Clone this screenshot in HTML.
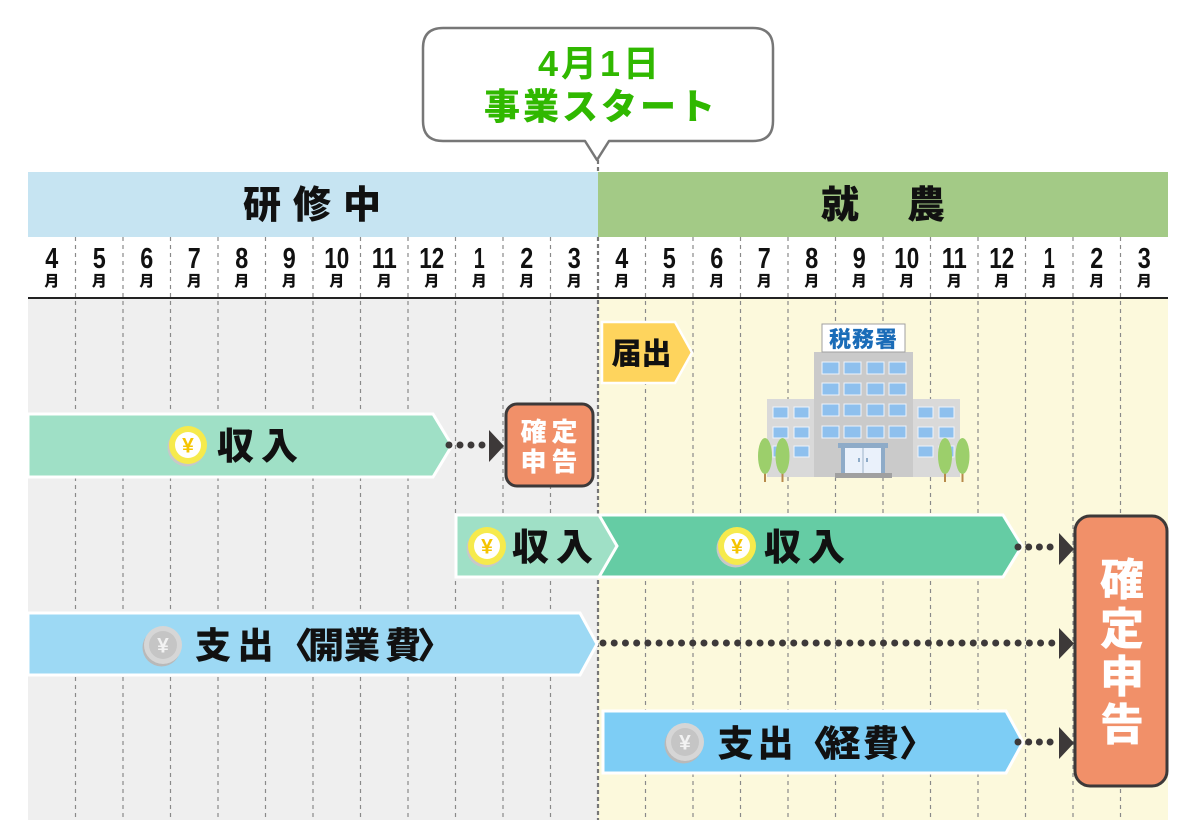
<!DOCTYPE html>
<html lang="ja">
<head>
<meta charset="utf-8">
<style>
html,body{margin:0;padding:0;background:#fff;}
body{width:1200px;height:840px;overflow:hidden;}
svg{display:block;}
text{font-family:"Liberation Sans","Noto Sans CJK JP",sans-serif;font-weight:bold;}
.cjk{font-family:"Noto Sans CJK JP","Liberation Sans",sans-serif;font-weight:900;}
</style>
</head>
<body>
<svg width="1200" height="840" viewBox="0 0 1200 840" xmlns="http://www.w3.org/2000/svg">
  <!-- body backgrounds -->
  <rect x="28" y="298" width="570" height="522" fill="#efefef"/>
  <rect x="598" y="298" width="570" height="522" fill="#fcf9dc"/>

  <!-- dashed grid -->
  <g stroke="#8a8a8a" stroke-width="1.2" stroke-dasharray="4 4">
    <line x1="75.5" y1="237" x2="75.5" y2="820"/>
    <line x1="123" y1="237" x2="123" y2="820"/>
    <line x1="170.5" y1="237" x2="170.5" y2="820"/>
    <line x1="218" y1="237" x2="218" y2="820"/>
    <line x1="265.5" y1="237" x2="265.5" y2="820"/>
    <line x1="313" y1="237" x2="313" y2="820"/>
    <line x1="360.5" y1="237" x2="360.5" y2="820"/>
    <line x1="408" y1="237" x2="408" y2="820"/>
    <line x1="455.5" y1="237" x2="455.5" y2="820"/>
    <line x1="503" y1="237" x2="503" y2="820"/>
    <line x1="550.5" y1="237" x2="550.5" y2="820"/>
    <line x1="645.5" y1="237" x2="645.5" y2="820"/>
    <line x1="693" y1="237" x2="693" y2="820"/>
    <line x1="740.5" y1="237" x2="740.5" y2="820"/>
    <line x1="788" y1="237" x2="788" y2="820"/>
    <line x1="835.5" y1="237" x2="835.5" y2="820"/>
    <line x1="883" y1="237" x2="883" y2="820"/>
    <line x1="930.5" y1="237" x2="930.5" y2="820"/>
    <line x1="978" y1="237" x2="978" y2="820"/>
    <line x1="1025.5" y1="237" x2="1025.5" y2="820"/>
    <line x1="1073" y1="237" x2="1073" y2="820"/>
    <line x1="1120.5" y1="237" x2="1120.5" y2="820"/>
  </g>
  <line x1="598" y1="160" x2="598" y2="820" stroke="#777" stroke-width="2.2" stroke-dasharray="4 3"/>

  <!-- header bands -->
  <rect x="28" y="172" width="570" height="65" fill="#c6e4f2"/>
  <rect x="598" y="172" width="570" height="65" fill="#a3ca86"/>
  <g class="cjk" font-size="38" fill="#111" text-anchor="middle">
    <text class="cjk" x="262" y="218">研</text>
    <text class="cjk" x="312" y="218">修</text>
    <text class="cjk" x="362" y="218">中</text>
    <text class="cjk" x="840" y="218">就</text>
    <text class="cjk" x="926" y="218">農</text>
  </g>

  <!-- month row -->
  <line x1="28" y1="298" x2="1168" y2="298" stroke="#222" stroke-width="2"/>
  <g font-size="29" fill="#111" text-anchor="middle">
    <text x="51.75" y="268" textLength="13" lengthAdjust="spacingAndGlyphs">4</text>
    <text x="99.25" y="268" textLength="13" lengthAdjust="spacingAndGlyphs">5</text>
    <text x="146.75" y="268" textLength="13" lengthAdjust="spacingAndGlyphs">6</text>
    <text x="194.25" y="268" textLength="13" lengthAdjust="spacingAndGlyphs">7</text>
    <text x="241.75" y="268" textLength="13" lengthAdjust="spacingAndGlyphs">8</text>
    <text x="289.25" y="268" textLength="13" lengthAdjust="spacingAndGlyphs">9</text>
    <text x="336.75" y="268" textLength="25" lengthAdjust="spacingAndGlyphs">10</text>
    <text x="384.25" y="268" textLength="25" lengthAdjust="spacingAndGlyphs">11</text>
    <text x="431.75" y="268" textLength="25" lengthAdjust="spacingAndGlyphs">12</text>
    <text x="479.25" y="268" textLength="11" lengthAdjust="spacingAndGlyphs">1</text>
    <text x="526.75" y="268" textLength="13" lengthAdjust="spacingAndGlyphs">2</text>
    <text x="574.25" y="268" textLength="13" lengthAdjust="spacingAndGlyphs">3</text>
    <text x="621.75" y="268" textLength="13" lengthAdjust="spacingAndGlyphs">4</text>
    <text x="669.25" y="268" textLength="13" lengthAdjust="spacingAndGlyphs">5</text>
    <text x="716.75" y="268" textLength="13" lengthAdjust="spacingAndGlyphs">6</text>
    <text x="764.25" y="268" textLength="13" lengthAdjust="spacingAndGlyphs">7</text>
    <text x="811.75" y="268" textLength="13" lengthAdjust="spacingAndGlyphs">8</text>
    <text x="859.25" y="268" textLength="13" lengthAdjust="spacingAndGlyphs">9</text>
    <text x="906.75" y="268" textLength="25" lengthAdjust="spacingAndGlyphs">10</text>
    <text x="954.25" y="268" textLength="25" lengthAdjust="spacingAndGlyphs">11</text>
    <text x="1001.75" y="268" textLength="25" lengthAdjust="spacingAndGlyphs">12</text>
    <text x="1049.25" y="268" textLength="11" lengthAdjust="spacingAndGlyphs">1</text>
    <text x="1096.75" y="268" textLength="13" lengthAdjust="spacingAndGlyphs">2</text>
    <text x="1144.25" y="268" textLength="13" lengthAdjust="spacingAndGlyphs">3</text>
  </g>
  <g font-size="15" fill="#111" text-anchor="middle">
    <text class="cjk" x="51.75" y="286">月</text>
    <text class="cjk" x="99.25" y="286">月</text>
    <text class="cjk" x="146.75" y="286">月</text>
    <text class="cjk" x="194.25" y="286">月</text>
    <text class="cjk" x="241.75" y="286">月</text>
    <text class="cjk" x="289.25" y="286">月</text>
    <text class="cjk" x="336.75" y="286">月</text>
    <text class="cjk" x="384.25" y="286">月</text>
    <text class="cjk" x="431.75" y="286">月</text>
    <text class="cjk" x="479.25" y="286">月</text>
    <text class="cjk" x="526.75" y="286">月</text>
    <text class="cjk" x="574.25" y="286">月</text>
    <text class="cjk" x="621.75" y="286">月</text>
    <text class="cjk" x="669.25" y="286">月</text>
    <text class="cjk" x="716.75" y="286">月</text>
    <text class="cjk" x="764.25" y="286">月</text>
    <text class="cjk" x="811.75" y="286">月</text>
    <text class="cjk" x="859.25" y="286">月</text>
    <text class="cjk" x="906.75" y="286">月</text>
    <text class="cjk" x="954.25" y="286">月</text>
    <text class="cjk" x="1001.75" y="286">月</text>
    <text class="cjk" x="1049.25" y="286">月</text>
    <text class="cjk" x="1096.75" y="286">月</text>
    <text class="cjk" x="1144.25" y="286">月</text>
  </g>

  <!-- speech bubble -->
  <path d="M443,28 H753 Q773,28 773,48 V121 Q773,141 753,141 H609 L597,160 L585,141 H443 Q423,141 423,121 V48 Q423,28 443,28 Z" fill="#fff" stroke="#777" stroke-width="2.5" stroke-linejoin="round"/>
  <text x="600" y="76" font-size="36" fill="#30b800" text-anchor="middle" letter-spacing="3">4月1日</text>
  <text class="cjk" x="601" y="119" font-size="36" fill="#30b800" text-anchor="middle" letter-spacing="3">事業スタート</text>

  <!-- 届出 -->
  <path d="M602,322 H675 L692,352.5 L675,383 H602 Z" fill="#fed45d" stroke="#fff" stroke-width="2.5"/>
  <text class="cjk" x="641.5" y="364" font-size="30" fill="#111" text-anchor="middle">届出</text>

  <!-- building -->
  <g>
    <rect x="767" y="399" width="47" height="78" fill="#d9d9d9"/>
    <rect x="913" y="399" width="47" height="78" fill="#d9d9d9"/>
    <rect x="814" y="352" width="99" height="125" fill="#cacaca"/>
    <g fill="#8ec0ee" stroke="#eef3fa" stroke-width="1">
      <rect x="822" y="362" width="17" height="12"/><rect x="844" y="362" width="17" height="12"/><rect x="867" y="362" width="17" height="12"/><rect x="889" y="362" width="17" height="12"/>
      <rect x="822" y="383" width="17" height="12"/><rect x="844" y="383" width="17" height="12"/><rect x="867" y="383" width="17" height="12"/><rect x="889" y="383" width="17" height="12"/>
      <rect x="822" y="404" width="17" height="12"/><rect x="844" y="404" width="17" height="12"/><rect x="867" y="404" width="17" height="12"/><rect x="889" y="404" width="17" height="12"/>
      <rect x="822" y="426" width="17" height="12"/><rect x="844" y="426" width="17" height="12"/><rect x="867" y="426" width="17" height="12"/><rect x="889" y="426" width="17" height="12"/>
      <rect x="773" y="407" width="15" height="11"/><rect x="794" y="407" width="15" height="11"/>
      <rect x="773" y="427" width="15" height="11"/><rect x="794" y="427" width="15" height="11"/>
      <rect x="773" y="446" width="15" height="11"/><rect x="794" y="446" width="15" height="11"/>
      <rect x="918" y="407" width="15" height="11"/><rect x="939" y="407" width="15" height="11"/>
      <rect x="918" y="427" width="15" height="11"/><rect x="939" y="427" width="15" height="11"/>
      <rect x="918" y="446" width="15" height="11"/><rect x="939" y="446" width="15" height="11"/>
    </g>
    <rect x="838" y="443" width="50" height="5" fill="#8eabc8"/>
    <rect x="845" y="448" width="36" height="26" fill="#eaf1fb"/>
    <rect x="841" y="448" width="4" height="26" fill="#8eabc8"/>
    <rect x="881" y="448" width="4" height="26" fill="#8eabc8"/>
    <line x1="863" y1="448" x2="863" y2="474" stroke="#9fb3c8" stroke-width="1"/>
    <rect x="858" y="458" width="2" height="4" fill="#8eabc8"/>
    <rect x="866" y="458" width="2" height="4" fill="#8eabc8"/>
    <rect x="835" y="473" width="57" height="5" fill="#a0a0a0"/>
    <rect x="822" y="324" width="83" height="28" fill="#fff" stroke="#a0a0a0" stroke-width="1"/>
    <text class="cjk" x="863.5" y="347" font-size="22" fill="#1a6cb8" text-anchor="middle" letter-spacing="1">税務署</text>
    <g fill="#b78a4c">
      <rect x="764" y="466" width="2" height="16"/><rect x="781.5" y="466" width="2" height="16"/>
      <rect x="944" y="466" width="2" height="16"/><rect x="961.5" y="466" width="2" height="16"/>
    </g>
    <g fill="#9ccf6b">
      <ellipse cx="765" cy="456" rx="7" ry="18"/><ellipse cx="782.5" cy="456" rx="7" ry="18"/>
      <ellipse cx="945" cy="456" rx="7" ry="18"/><ellipse cx="962.5" cy="456" rx="7" ry="18"/>
    </g>
  </g>

  <!-- row 2: 収入 -> 確定申告 -->
  <path d="M28,414 H433 L452,445.5 L433,477 H28 Z" fill="#9fe0c6" stroke="#fff" stroke-width="3"/>
  <g transform="translate(188,445)">
    <circle cx="-1.5" cy="2.5" r="19" fill="#c8c8c8"/>
    <circle cx="0" cy="0" r="19" fill="#f6ea4c"/>
    <circle cx="0" cy="0" r="13" fill="#fff"/>
    <text x="0" y="7.5" font-size="21" fill="#f5c400" text-anchor="middle">¥</text>
  </g>
  <text class="cjk" x="217" y="459" font-size="37" fill="#111" letter-spacing="7">収入</text>

  <line x1="449" y1="445" x2="484" y2="445" stroke="#3d3939" stroke-width="7" stroke-linecap="round" stroke-dasharray="0 11"/>
  <polygon points="489,430 504,446 489,462" fill="#3d3939"/>
  <rect x="506" y="404" width="87" height="82" rx="11" fill="#f19069" stroke="#3d3939" stroke-width="3"/>
  <text class="cjk" x="549" y="441" font-size="26" fill="#fff" text-anchor="middle" letter-spacing="5" dx="2.5">確定</text>
  <text class="cjk" x="549" y="471" font-size="26" fill="#fff" text-anchor="middle" letter-spacing="5" dx="2.5">申告</text>

  <!-- row 3: 収入 + 収入 -->
  <path d="M598,515 H1003 L1022,546 L1003,577 H598 Z" fill="#65cca4" stroke="#fff" stroke-width="3"/>
  <path d="M456,515 H599 L617,546 L599,577 H456 Z" fill="#9fe0c6" stroke="#fff" stroke-width="3"/>
  <g transform="translate(487,546)">
    <circle cx="-1.5" cy="2.5" r="19" fill="#c8c8c8"/>
    <circle cx="0" cy="0" r="19" fill="#f6ea4c"/>
    <circle cx="0" cy="0" r="13" fill="#fff"/>
    <text x="0" y="7.5" font-size="21" fill="#f5c400" text-anchor="middle">¥</text>
  </g>
  <text class="cjk" x="512" y="560" font-size="37" fill="#111" letter-spacing="7">収入</text>
  <g transform="translate(737,546)">
    <circle cx="-1.5" cy="2.5" r="19" fill="#c8c8c8"/>
    <circle cx="0" cy="0" r="19" fill="#f6ea4c"/>
    <circle cx="0" cy="0" r="13" fill="#fff"/>
    <text x="0" y="7.5" font-size="21" fill="#f5c400" text-anchor="middle">¥</text>
  </g>
  <text class="cjk" x="764" y="560" font-size="37" fill="#111" letter-spacing="7">収入</text>
  <line x1="1018" y1="547" x2="1052" y2="547" stroke="#3d3939" stroke-width="7" stroke-linecap="round" stroke-dasharray="0 10.7"/>
  <polygon points="1059,533 1074,549 1059,565" fill="#3d3939"/>

  <!-- row 4: 支出〈開業費〉 -->
  <path d="M28,613 H580 L597,644 L580,675 H28 Z" fill="#9dd9f4" stroke="#fff" stroke-width="3"/>
  <g transform="translate(163,645)">
    <circle cx="-1.5" cy="2.5" r="19" fill="#b9b9b9"/>
    <circle cx="0" cy="0" r="19" fill="#d6d6d6"/>
    <circle cx="0" cy="0" r="14" fill="#c5c5c5"/>
    <text x="0" y="7.5" font-size="21" fill="#f2f2f2" text-anchor="middle">¥</text>
  </g>
  <g font-size="36" fill="#111" text-anchor="middle">
    <text class="cjk" x="213" y="658">支</text>
    <text class="cjk" x="255.5" y="658">出</text>
    <text class="cjk" x="277" y="658" text-anchor="start">〈</text>
    <text class="cjk" x="326" y="658">開</text>
    <text class="cjk" x="362" y="658">業</text>
    <text class="cjk" x="403" y="658">費</text>
    <text class="cjk" x="417" y="658" text-anchor="start">〉</text>
  </g>
  <line x1="603" y1="643" x2="1052" y2="643" stroke="#3d3939" stroke-width="7" stroke-linecap="round" stroke-dasharray="0 11.22"/>
  <polygon points="1059,628 1074,643.5 1059,659" fill="#3d3939"/>

  <!-- row 5: 支出〈経費〉 -->
  <path d="M603,711 H1006 L1023,742 L1006,773 H603 Z" fill="#7dcdf5" stroke="#fff" stroke-width="3"/>
  <g transform="translate(685,742)">
    <circle cx="-1.5" cy="2.5" r="19" fill="#b9b9b9"/>
    <circle cx="0" cy="0" r="19" fill="#d6d6d6"/>
    <circle cx="0" cy="0" r="14" fill="#c5c5c5"/>
    <text x="0" y="7.5" font-size="21" fill="#f2f2f2" text-anchor="middle">¥</text>
  </g>
  <g font-size="36" fill="#111" text-anchor="middle">
    <text class="cjk" x="735.5" y="756">支</text>
    <text class="cjk" x="775.5" y="756">出</text>
    <text class="cjk" x="795" y="756" text-anchor="start">〈</text>
    <text class="cjk" x="842.5" y="756">経</text>
    <text class="cjk" x="881" y="756">費</text>
    <text class="cjk" x="899" y="756" text-anchor="start">〉</text>
  </g>
  <line x1="1018" y1="742" x2="1052" y2="742" stroke="#3d3939" stroke-width="7" stroke-linecap="round" stroke-dasharray="0 10.7"/>
  <polygon points="1059,727 1074,743 1059,759" fill="#3d3939"/>

  <!-- big 確定申告 -->
  <rect x="1075" y="516" width="92" height="270" rx="15" fill="#f19069" stroke="#3d3939" stroke-width="3"/>
  <g font-size="44" fill="#fff" text-anchor="middle">
    <text class="cjk" x="1122" y="595">確</text>
    <text class="cjk" x="1122" y="644">定</text>
    <text class="cjk" x="1122" y="692">申</text>
    <text class="cjk" x="1122" y="740">告</text>
  </g>
</svg>
</body>
</html>
